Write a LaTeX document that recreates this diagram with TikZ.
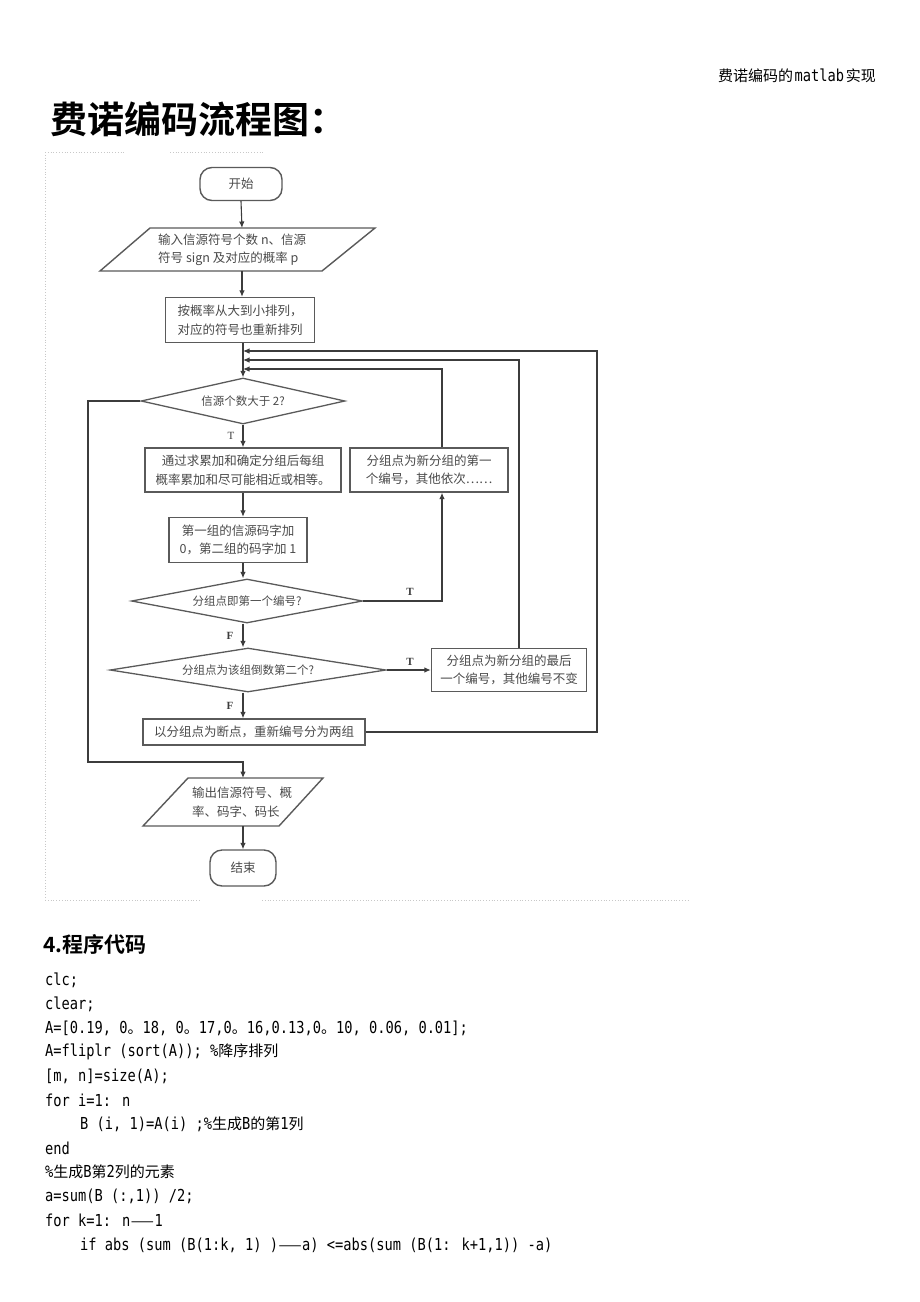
\documentclass[tikz,border=0pt]{standalone}
\usepackage{fontspec}
\setmainfont{Noto Sans CJK SC}
\newfontfamily\cjk{Noto Sans CJK SC}
\newfontfamily\cjkb{Noto Sans CJK SC Bold}
\newfontfamily\monof[FakeStretch=0.83]{DejaVu Sans Mono}
\newfontfamily\tnr{Liberation Serif}
\usetikzlibrary{shapes.geometric,arrows.meta}
\definecolor{linec}{HTML}{3C3C3C}
\definecolor{boxc}{HTML}{5A5A5A}
\definecolor{txtc}{HTML}{4A4A4A}
\definecolor{framec}{HTML}{C8C8C8}
\newcommand{\zh}[1]{{\cjk\fontsize{15}{15}\selectfont #1}}
\newcommand{\longdash}{\scalebox{1.8}[1]{\zh{—}}}
\newcommand{\fcfont}{\cjk\fontsize{12.5}{18.5}\selectfont}
\newcommand{\dfont}{\cjk\fontsize{11.5}{14}\selectfont}
\begin{document}
\begin{tikzpicture}[x=1pt,y=-1pt,
  conn/.style={draw=linec, line width=1.1pt},
  arr/.style={conn, -{Latex[length=6.5pt,width=5.5pt]}},
  box/.style={draw=boxc, line width=1.4pt, fill=white, inner sep=0pt, font=\fcfont, text=txtc, align=center},
  term/.style={box, rounded corners=12pt},
  dia/.style={diamond, draw=boxc, line width=1.3pt, fill=white, inner sep=0pt, font=\dfont, text=txtc},
  para/.style={draw=boxc, line width=1.4pt, fill=white},
  lbl/.style={font=\tnr\fontsize{11}{11}\selectfont\bfseries, text=linec, inner sep=0pt},
  codel/.style={anchor=west, inner sep=0pt, font=\monof\fontsize{16.5}{20}\selectfont, text=black},
  frame/.style={draw=framec, line width=0.8pt, dotted}
]
\useasboundingbox (0,0) rectangle (920,1302);
\fill[white] (0,0) rectangle (920,1302);

% header and title
\node[anchor=east, inner sep=0pt] (hdr) at (876,76) {{\cjk\fontsize{15}{15}\selectfont 费诺编码的}\,{\monof\fontsize{16.5}{16}\selectfont matlab}\,{\cjk\fontsize{15}{15}\selectfont 实现}};
\node[anchor=west, inner sep=0pt] (title) at (50,119) {\cjkb\fontsize{37}{37}\selectfont 费诺编码流程图：};

% image frame (dotted)
\draw[frame] (45,152) -- (45,900);
\draw[frame] (45,152) -- (125,152);
\draw[frame] (170,152) -- (265,152);
\draw[frame] (45,900) -- (200,900);
\draw[frame] (262,900) -- (690,900);

% nodes
\node[term, minimum width=82pt, minimum height=33pt] (start) at (241,184) {开始};

\draw[para] (150,228) -- (375,228) -- (322,271) -- (100,271) -- cycle;
\coordinate (intop) at (242,228);
\coordinate (inbot) at (242,271);
\node[anchor=west, inner sep=0pt, font=\fcfont, text=txtc, align=left] (intext) at (158,250) {输入信源符号个数 n、信源\\符号 sign 及对应的概率 p};

\node[box, minimum width=149pt, minimum height=45pt] (sort) at (240,320) {按概率从大到小排列，\\对应的符号也重新排列};

\coordinate (sp) at (243,0);
\coordinate (j1) at (243,351);
\coordinate (j2) at (243,360);
\coordinate (j3) at (243,369);

\node[dia, aspect=4.4, minimum width=204pt, minimum height=46pt] (d1) at (243,401) {信源个数大于 2?};
\node[box, minimum width=196pt, minimum height=44pt] (sum) at (243,470) {通过求累加和确定分组后每组\\概率累加和尽可能相近或相等。};
\node[box, minimum width=158pt, minimum height=44pt] (first) at (429,470) {分组点为新分组的第一\\个编号，其他依次……};
\node[box, minimum width=138pt, minimum height=45pt] (code) at (238,540) {第一组的信源码字加\\0，第二组的码字加 1};
\node[dia, aspect=5.2, minimum width=231pt, minimum height=44pt] (d2) at (247,601) {分组点即第一个编号?};
\node[dia, aspect=6.2, minimum width=276pt, minimum height=44pt] (d3) at (248,670) {分组点为该组倒数第二个?};
\node[box, minimum width=155pt, minimum height=43pt] (last) at (509,670) {分组点为新分组的最后\\一个编号，其他编号不变};
\node[box, minimum width=222pt, minimum height=26pt] (split) at (254,732) {以分组点为断点，重新编号分为两组};

\draw[para] (188,778) -- (323,778) -- (279,826) -- (143,826) -- cycle;
\coordinate (outtop) at (243,778);
\coordinate (outbot) at (243,826);
\node[anchor=west, inner sep=0pt, font=\fcfont, text=txtc, align=left] (outtext) at (192,802) {输出信源符号、概\\率、码字、码长};

\node[term, minimum width=66pt, minimum height=36pt] (end) at (243,868) {结束};

% loop corner coordinates
\coordinate (o1) at (597,351);
\coordinate (m2) at (519,360);
\coordinate (m3) at (442,369);
\coordinate (lx) at (88,762);

% connectors
\draw[arr] (start.south) -- (intop);
\draw[arr] (inbot) -- (sort.north -| inbot);
\draw[arr] (sp |- sort.south) -- (d1.north);
\draw[arr] (split.east) -| (o1) -- (j1);
\draw[arr] (m2 |- last.north) -- (m2) -- (j2);
\draw[arr] (m3 |- first.north) -- (m3) -- (j3);
\draw[arr] (d1.south) -- (sum.north);
\draw[arr] (d1.west) -| (lx) -- (lx -| outtop) -- (outtop);
\draw[arr] (sp |- sum.south) -- (sp |- code.north);
\draw[arr] (sp |- code.south) -- (sp |- d2.north);
\draw[arr] (d2.east) -| (m3 |- first.south);
\draw[arr] (sp |- d2.south) -- (sp |- d3.north);
\draw[arr] (d3.east) -- (last.west);
\draw[arr] (sp |- d3.south) -- (sp |- split.north);
\draw[arr] (outbot) -- (end.north);

% labels
\node[lbl, font=\tnr\fontsize{11}{11}\selectfont] (lt1) at (231,436) {T};
\node[lbl] (lt2) at (410,592) {T};
\node[lbl] (lf1) at (230,636) {F};
\node[lbl] (lt3) at (410,662) {T};
\node[lbl] (lf2) at (230,706) {F};

% program code
\node[anchor=west, inner sep=0pt] (sec) at (43,944) {\cjkb\fontsize{21}{21}\selectfont 4.程序代码};
\node[codel] (c1) at (45,980) {clc;};
\node[codel] (c2) at (45,1004) {clear;};
\node[codel] (c3) at (45,1028) {A=[0.19, 0\zh{。}18, 0\zh{。}17,0\zh{。}16,0.13,0\zh{。}10, 0.06, 0.01];};
\node[codel] (c4) at (45,1052) {A=fliplr (sort(A)); \%\zh{降序排列}};
\node[codel] (c5) at (45,1076) {[m, n]=size(A);};
\node[codel] (c6) at (45,1100) {for i=1: n};
\node[codel] (c7) at (80,1124) {B (i, 1)=A(i) ;\%\zh{生成}B\zh{的第}1\zh{列}};
\node[codel] (c8) at (45,1148) {end};
\node[codel] (c9) at (45,1172) {\%\zh{生成}B\zh{第}2\zh{列的元素}};
\node[codel] (c10) at (45,1196) {a=sum(B (:,1)) /2;};
\node[codel] (c11) at (45,1220) {for k=1: n\longdash 1};
\node[codel] (c12) at (80,1245) {if abs (sum (B(1:k, 1) )\longdash a) <=abs(sum (B(1: k+1,1)) -a)};
\end{tikzpicture}
\end{document}
